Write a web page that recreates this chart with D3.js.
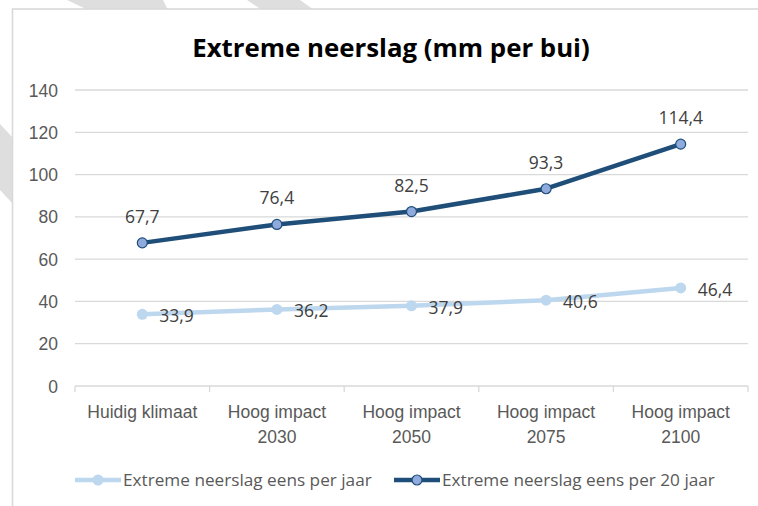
<!DOCTYPE html>
<html lang="nl">
  <head>
    <meta charset="utf-8">
    <title>Extreme neerslag</title>
    <style>
      html, body { margin: 0; padding: 0; background: #fff; }
      svg { display: block; font-family: "Open Sans", Lato, sans-serif; }
      .grid line { stroke: #d9d9d9; stroke-width: 1.3px; }
      .axis text { fill: #595959; font-size: 17.5px; }
      .label { fill: #404040; font-size: 17.5px; }
      .legend text { fill: #595959; font-size: 17.2px; }
    </style>
  </head>
  <body>
    <svg id="chart"></svg>
    <script src="https://cdn.jsdelivr.net/npm/d3@7/dist/d3.min.js"></script>
    <script>

      // categories and the two series
      var categories = ["Huidig klimaat", "Hoog impact 2030", "Hoog impact 2050", "Hoog impact 2075", "Hoog impact 2100"];
      var perJaar   = [33.9, 36.2, 37.9, 40.6, 46.4];
      var per20Jaar = [67.7, 76.4, 82.5, 93.3, 114.4];
      var seriesNames = ["Extreme neerslag eens per jaar", "Extreme neerslag eens per 20 jaar"];
      var yTicks = [0, 20, 40, 60, 80, 100, 120, 140];

      var width = 758, height = 506;

      var svg = d3.select("#chart")
          .attr("width", width)
          .attr("height", height);

      // watermark stripes peeking out around the chart box
      var stripes = [
        [[67,0],[163,0],[168,10],[88,10]],
        [[247,0],[300,0],[314,10],[262,10]],
        [[0,124],[13,138],[13,204],[0,190]]
      ];
      svg.selectAll("polygon.wm")
          .data(stripes)
          .enter().append("polygon")
          .attr("class", "wm")
          .attr("points", function(d) { return d.join(" "); })
          .attr("fill", "#dedede");

      // chart box
      svg.append("rect")
          .attr("x", 12.5).attr("y", 9)
          .attr("width", 800).attr("height", 600)
          .attr("fill", "#fff")
          .attr("stroke", "#d9d9d9")
          .attr("stroke-width", 1.6);

      svg.append("text")
          .attr("x", 391).attr("y", 57)
          .attr("text-anchor", "middle")
          .style("font-size", "25.8px")
          .style("font-weight", "bold")
          .style("fill", "#000")
          .text("Extreme neerslag (mm per bui)");

      var x = d3.scaleBand()
          .domain(categories)
          .range([75, 748]);

      var y = d3.scaleLinear()
          .domain([0, 140])
          .range([386, 90]);

      // gridlines
      svg.append("g")
          .attr("class", "grid")
          .selectAll("line")
          .data(yTicks.filter(function(d) { return d > 0; }))
          .enter().append("line")
          .attr("x1", 75).attr("x2", 748)
          .attr("y1", function(d) { return y(d); })
          .attr("y2", function(d) { return y(d); });

      // y axis labels
      var yAxis = svg.append("g")
          .attr("class", "axis")
          .attr("transform", "translate(75,0)")
          .call(d3.axisLeft(y).tickValues(yTicks).tickSize(0).tickPadding(17));
      yAxis.select(".domain").remove();
      yAxis.selectAll("text").attr("dy", "0.35em");

      // x axis with tick marks on category borders
      var xAxis = svg.append("g")
          .attr("class", "axis")
          .attr("transform", "translate(0," + y(0) + ")")
          .call(d3.axisBottom(x).tickSize(0).tickPadding(0));
      xAxis.select(".domain").attr("stroke", "#d9d9d9").attr("stroke-width", 1.3)
          .attr("d", "M75,0H748");
      xAxis.selectAll(".tick text").remove();
      xAxis.selectAll(".tick").each(function(d) {
        var t = d3.select(this);
        var parts = d.indexOf("Hoog impact") === 0 ? ["Hoog impact", d.slice(12)] : [d];
        var txt = t.append("text").attr("y", 32).attr("fill", "#595959").attr("text-anchor", "middle");
        parts.forEach(function(p, i) {
          txt.append("tspan").attr("x", 0).attr("dy", i === 0 ? 0 : 25).text(p);
        });
      });
      var borders = categories.map(function(c) { return x(c); }).concat([748]);
      svg.append("g").selectAll("line")
          .data(borders)
          .enter().append("line")
          .attr("x1", function(d) { return d; }).attr("x2", function(d) { return d; })
          .attr("y1", y(0)).attr("y2", y(0) + 6)
          .attr("stroke", "#d9d9d9").attr("stroke-width", 1.3);

      var cx = function(d, i) { return x(categories[i]) + x.bandwidth() / 2; };
      var line = d3.line()
          .x(function(d, i) { return x(categories[i]) + x.bandwidth() / 2; })
          .y(function(d) { return y(d); });

      var fmt = function(v) { return d3.format(".1f")(v).replace(".", ","); };

      var light = "#bdd7ee", dark = "#1f4e79", markerFill = "#8faadc";

      // series 1: once a year
      svg.append("path").datum(perJaar)
          .attr("d", line).attr("fill", "none")
          .attr("stroke", light).attr("stroke-width", 4.5).attr("stroke-linejoin", "round");
      svg.append("g").selectAll("circle")
          .data(perJaar).enter().append("circle")
          .attr("cx", cx).attr("cy", function(d) { return y(d); })
          .attr("r", 5.5).attr("fill", light);

      // series 2: once per 20 years
      svg.append("path").datum(per20Jaar)
          .attr("d", line).attr("fill", "none")
          .attr("stroke", dark).attr("stroke-width", 4.5).attr("stroke-linejoin", "round");
      svg.append("g").selectAll("circle")
          .data(per20Jaar).enter().append("circle")
          .attr("cx", cx).attr("cy", function(d) { return y(d); })
          .attr("r", 5).attr("fill", markerFill)
          .attr("stroke", dark).attr("stroke-width", 1.2);

      // data labels
      svg.append("g").selectAll("text")
          .data(perJaar).enter().append("text")
          .attr("class", "label")
          .attr("x", function(d, i) { return cx(d, i) + 17; })
          .attr("y", function(d) { return y(d) + 8; })
          .text(fmt);
      svg.append("g").selectAll("text")
          .data(per20Jaar).enter().append("text")
          .attr("class", "label")
          .attr("text-anchor", "middle")
          .attr("x", cx)
          .attr("y", function(d) { return y(d) - 20; })
          .text(fmt);

      // legend
      var legend = svg.append("g").attr("class", "legend");
      var legendX = [75, 394];
      [light, dark].forEach(function(col, i) {
        var g = legend.append("g").attr("transform", "translate(" + legendX[i] + ",480)");
        g.append("line").attr("x1", 0).attr("x2", 46)
            .attr("stroke", col).attr("stroke-width", 4.5);
        g.append("circle").attr("cx", 23).attr("r", i === 0 ? 5.5 : 5)
            .attr("fill", i === 0 ? light : markerFill)
            .attr("stroke", i === 0 ? "none" : dark).attr("stroke-width", 1.2);
        g.append("text").attr("x", 48).attr("dy", "0.35em").text(seriesNames[i]);
      });

    </script>
  </body>
</html>
